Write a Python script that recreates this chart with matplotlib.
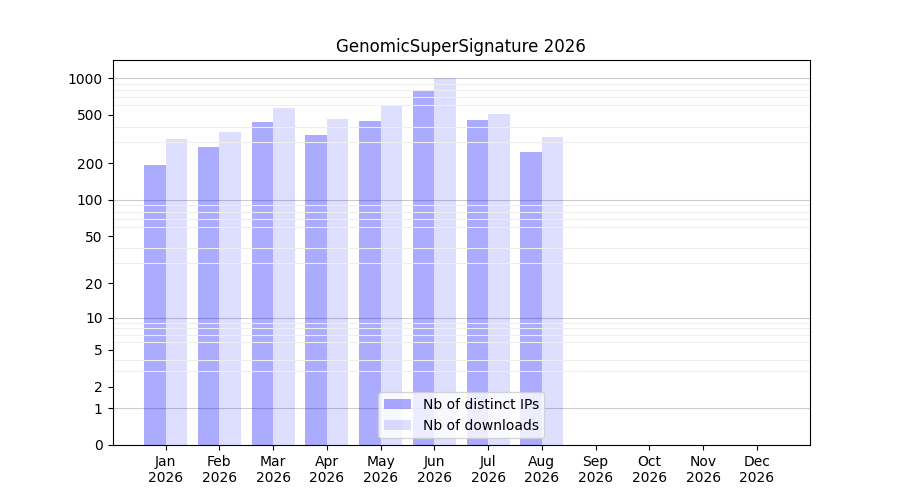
import numpy as np
import matplotlib
matplotlib.use("Agg")
from matplotlib import pyplot as plt

months = ["Jan", "Feb", "Mar", "Apr", "May", "Jun", "Jul", "Aug", "Sep", "Oct", "Nov", "Dec"]
year = 2026
nb_ips = [194, 273, 438, 342, 447, 801, 455, 248, 0, 0, 0, 0]
nb_downloads = [317, 362, 571, 463, 604, 1003, 509, 330, 0, 0, 0, 0]

ytick_vals = [0, 1, 2, 5, 10, 20, 50, 100, 200, 500, 1000]
decades = [1, 10, 100, 1000]


def fwd(v):
    return np.log10(1 + np.maximum(v, 0))


def inv(v):
    return 10 ** v - 1


x = np.arange(1, len(months) + 1)

fig, ax = plt.subplots(figsize=(9, 5), dpi=100)
ax.set_yscale("function", functions=(fwd, inv))

ax.bar(x - 0.2, nb_ips, width=0.4, color="blue", alpha=0.33, label="Nb of distinct IPs")
ax.bar(x + 0.2, nb_downloads, width=0.4, color="blue", alpha=0.13, label="Nb of downloads")

ax.set_ylim(0, max(nb_downloads) * 1.4)

minor_vals = [m * 10 ** k for k in range(0, 3) for m in range(2, 10)]
ax.set_yticks(minor_vals, minor=True)
ax.tick_params(axis="y", which="minor", length=0)
ax.grid(axis="y", which="minor", color="#eeeeee", linewidth=0.8)
for d in decades:
    ax.axhline(d, color="#cccccc", linewidth=0.8, zorder=0.5)

ax.set_yticks(ytick_vals)
ax.set_yticklabels([str(v) for v in ytick_vals])
ax.set_xticks(x)
ax.set_xticklabels([f"{m}\n{year}" for m in months])

ax.set_title(f"GenomicSuperSignature {year}")
ax.legend(loc="lower center")

plt.savefig("out.png", dpi=100)
